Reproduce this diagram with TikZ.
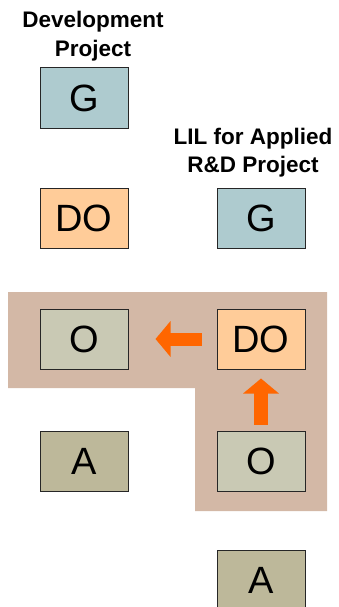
\documentclass[tikz,border=0pt]{standalone}
\usepackage{fontspec}
\setmainfont{Liberation Sans}
\usetikzlibrary{arrows.meta}
\definecolor{gfill}{HTML}{AECBCF}
\definecolor{dofill}{HTML}{FFCC99}
\definecolor{ofill}{HTML}{C9C9B4}
\definecolor{afill}{HTML}{BDB89A}
\definecolor{bgfill}{HTML}{D3B8A6}
\definecolor{arrowc}{HTML}{FF6600}
\begin{document}
\begin{tikzpicture}[x=1pt,y=-1pt,
  box/.style={draw=black!85,line width=1pt,minimum width=88pt,minimum height=60pt,inner sep=0pt,font=\fontsize{38}{40}\selectfont},
  hdr/.style={font=\fontsize{22.5}{26}\selectfont\bfseries,inner sep=0pt,anchor=base},
  bigarrow/.style={draw=arrowc,line width=13pt,-{Triangle[length=15pt,width=35pt]}}
]
\useasboundingbox (0,0) rectangle (338,607);
% background L-shape
\fill[bgfill] (8,292) -- (327,292) -- (327,511) -- (195,511) -- (195,388) -- (8,388) -- cycle;
% headers
\node[hdr] (h1a) at (93,28) {Development};
\node[hdr] (h1b) at (93,57) {Project};
\node[hdr] (h2a) at (253,144) {LIL for Applied};
\node[hdr] (h2b) at (253,172) {R\&D Project};
% boxes
\node[box,fill=gfill] (gL) at (84,98) {G};
\node[box,fill=dofill] (doL) at (84,218) {DO};
\node[box,fill=gfill] (gR) at (261,218) {G};
\node[box,fill=ofill] (oL) at (84,339) {O};
\node[box,fill=dofill] (doR) at (261,339) {DO};
\node[box,fill=afill] (aL) at (84,461) {A};
\node[box,fill=ofill] (oR) at (261,461) {O};
\node[box,fill=afill] (aR) at (261,580) {A};
% arrows
\draw[bigarrow,shorten <=15pt,shorten >=27pt] (doR.west) -- (oL.east);
\draw[bigarrow,line width=14pt,shorten <=6pt,shorten >=9pt] (oR.north) -- (doR.south);
\end{tikzpicture}
\end{document}
